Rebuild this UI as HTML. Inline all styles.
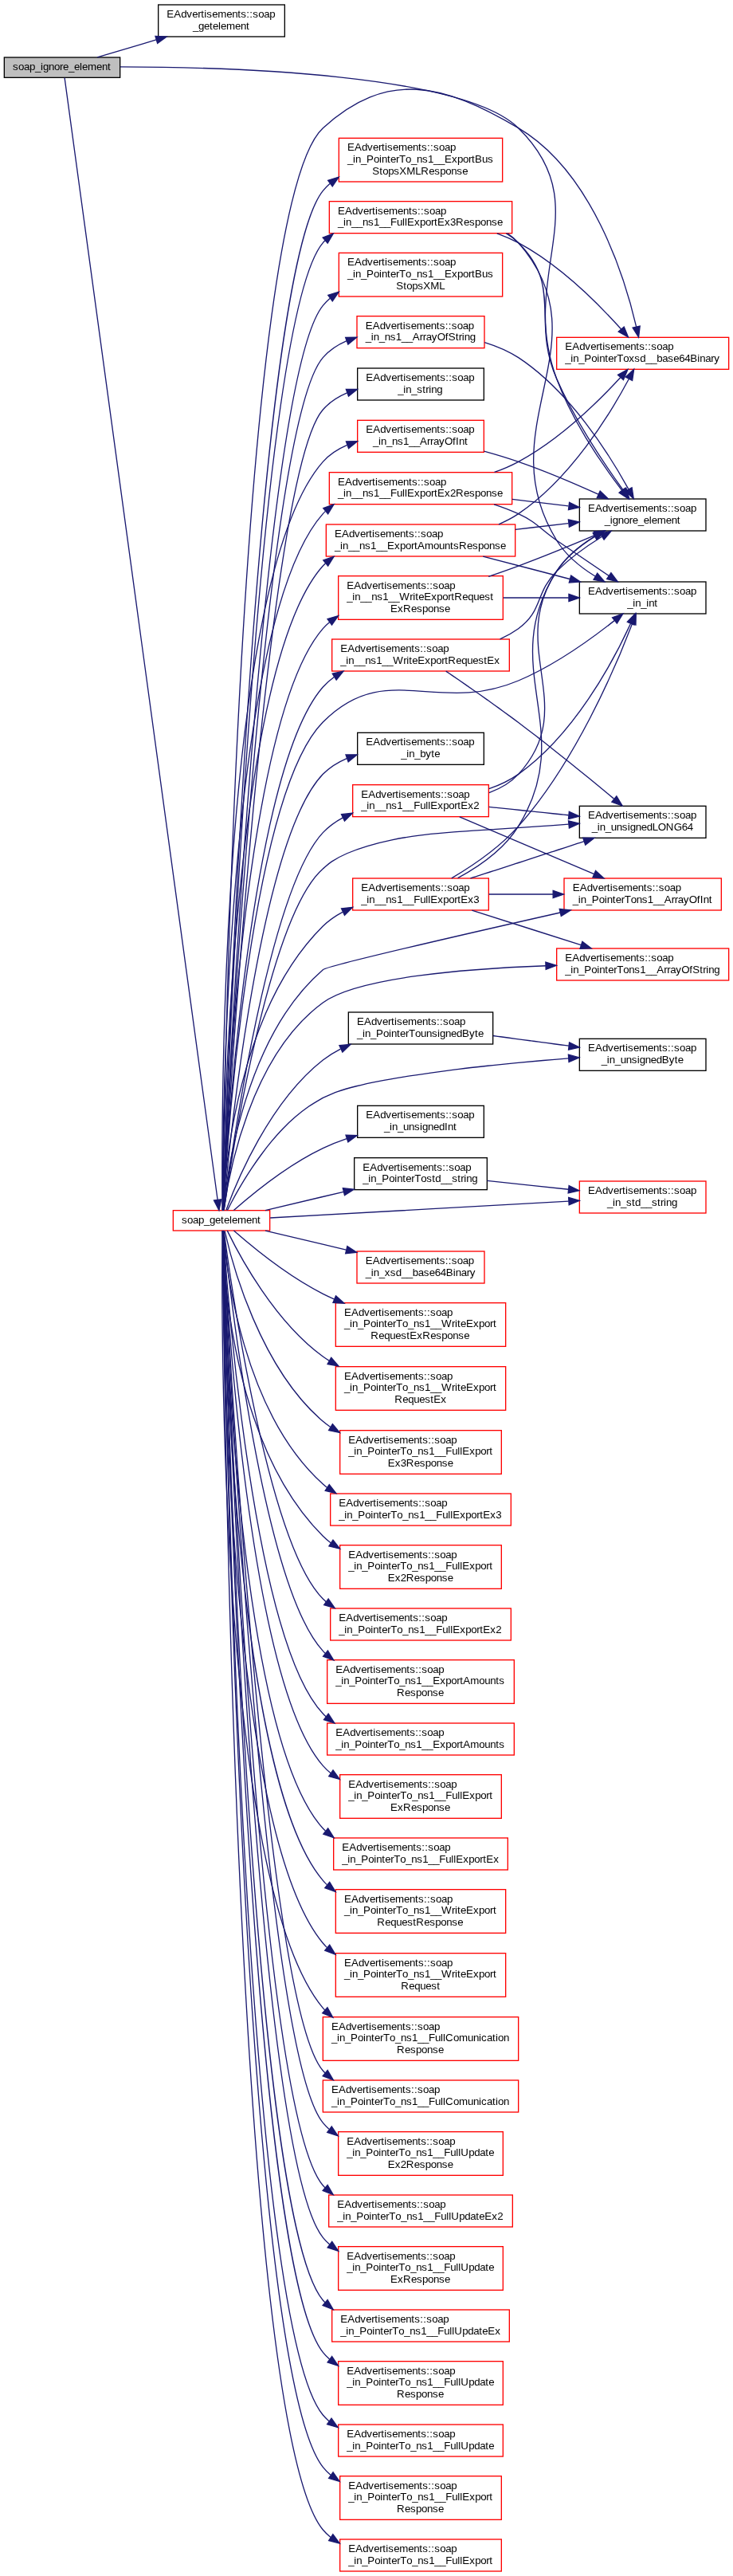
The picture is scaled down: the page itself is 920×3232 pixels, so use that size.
<!DOCTYPE html>
<html lang="en">
<head>
<meta charset="utf-8">
<title>soap_ignore_element</title>
<style>
html,body{margin:0;padding:0;background:#fff}
svg{display:block;will-change:transform}
text{font-family:"Liberation Sans",sans-serif;font-size:10px;fill:#000}
.e path{fill:none;stroke:#191970;stroke-width:1}
.e polygon{fill:#191970;stroke:#191970;stroke-width:1}
.n rect{stroke-width:1}
</style>
</head>
<body>
<svg width="920" height="3232" viewBox="0 0 690 2424">
<rect x="0" y="0" width="690" height="2424" fill="#fff"/>
<g transform="translate(4 2420)">
<g class="n">
<rect x="0" y="-2366" width="109" height="19" fill="#bfbfbf" stroke="#000"/>
<text transform="translate(0 -2354) scale(1 1.02)" x="8 13.25 18.5 23.75 29 34.25 36.5 41.75 47 52.25 55.25 60.5 65.75 71 73.25 78.5 86.75 92 97.25">soap_ignore_element</text>
<rect x="145" y="-2415.5" width="119" height="30" fill="#fff" stroke="#000"/>
<text transform="translate(0 -2403.5) scale(1 1.02)" x="153 159.75 166.5 171.75 177 182.25 185.25 188.25 190.5 195.75 201 209.25 214.5 219.75 222.75 228 231 234 239.25 244.5 249.75">EAdvertisements::soap</text>
<text transform="translate(0 -2392.5) scale(1 1.02)" x="177.5 182.75 188 193.25 196.25 201.5 203.75 209 217.25 222.5 227.75">_getelement</text>
<rect x="541.5" y="-1950.5" width="119" height="30" fill="#fff" stroke="#000"/>
<text transform="translate(0 -1938.5) scale(1 1.02)" x="549.5 556.25 563 568.25 573.5 578.75 581.75 584.75 587 592.25 597.5 605.75 611 616.25 619.25 624.5 627.5 630.5 635.75 641 646.25">EAdvertisements::soap</text>
<text transform="translate(0 -1927.5) scale(1 1.02)" x="565 570.25 572.5 577.75 583 588.25 591.25 596.5 601.75 607 609.25 614.5 622.75 628 633.25">_ignore_element</text>
<rect x="159" y="-1281" width="91" height="19" fill="#fff" stroke="#f00"/>
<text transform="translate(0 -1269) scale(1 1.02)" x="167 172.25 177.5 182.75 188 193.25 198.5 203.75 206.75 212 214.25 219.5 227.75 233 238.25">soap_getelement</text>
<rect x="332.5" y="-1730.5" width="119" height="30" fill="#fff" stroke="#000"/>
<text transform="translate(0 -1718.5) scale(1 1.02)" x="340.5 347.25 354 359.25 364.5 369.75 372.75 375.75 378 383.25 388.5 396.75 402 407.25 410.25 415.5 418.5 421.5 426.75 432 437.25">EAdvertisements::soap</text>
<text transform="translate(0 -1707.5) scale(1 1.02)" x="373.5 378.75 381 386.25 391.5 396.75 402 405">_in_byte</text>
<rect x="541.5" y="-1872.5" width="119" height="30" fill="#fff" stroke="#000"/>
<text transform="translate(0 -1860.5) scale(1 1.02)" x="549.5 556.25 563 568.25 573.5 578.75 581.75 584.75 587 592.25 597.5 605.75 611 616.25 619.25 624.5 627.5 630.5 635.75 641 646.25">EAdvertisements::soap</text>
<text transform="translate(0 -1849.5) scale(1 1.02)" x="586.5 591.75 594 599.25 604.5 606.75 612">_in_int</text>
<rect x="541.5" y="-1442.5" width="119" height="30" fill="#fff" stroke="#000"/>
<text transform="translate(0 -1430.5) scale(1 1.02)" x="549.5 556.25 563 568.25 573.5 578.75 581.75 584.75 587 592.25 597.5 605.75 611 616.25 619.25 624.5 627.5 630.5 635.75 641 646.25">EAdvertisements::soap</text>
<text transform="translate(0 -1419.5) scale(1 1.02)" x="562 567.25 569.5 574.75 580 585.25 590.5 595.75 598 603.25 608.5 613.75 619 625.75 631 634">_in_unsignedByte</text>
<rect x="332.5" y="-1379.5" width="119" height="30" fill="#fff" stroke="#000"/>
<text transform="translate(0 -1367.5) scale(1 1.02)" x="340.5 347.25 354 359.25 364.5 369.75 372.75 375.75 378 383.25 388.5 396.75 402 407.25 410.25 415.5 418.5 421.5 426.75 432 437.25">EAdvertisements::soap</text>
<text transform="translate(0 -1356.5) scale(1 1.02)" x="357.5 362.75 365 370.25 375.5 380.75 386 391.25 393.5 398.75 404 409.25 414.5 417.5 422.75">_in_unsignedInt</text>
<rect x="541.5" y="-1661.5" width="119" height="30" fill="#fff" stroke="#000"/>
<text transform="translate(0 -1649.5) scale(1 1.02)" x="549.5 556.25 563 568.25 573.5 578.75 581.75 584.75 587 592.25 597.5 605.75 611 616.25 619.25 624.5 627.5 630.5 635.75 641 646.25">EAdvertisements::soap</text>
<text transform="translate(0 -1638.5) scale(1 1.02)" x="553 558.25 560.5 565.75 571 576.25 581.5 586.75 589 594.25 599.5 604.75 610 615.25 622.75 630.25 637.75 643">_in_unsignedLONG64</text>
<rect x="541.5" y="-1308.5" width="119" height="30" fill="#fff" stroke="#f00"/>
<text transform="translate(0 -1296.5) scale(1 1.02)" x="549.5 556.25 563 568.25 573.5 578.75 581.75 584.75 587 592.25 597.5 605.75 611 616.25 619.25 624.5 627.5 630.5 635.75 641 646.25">EAdvertisements::soap</text>
<text transform="translate(0 -1285.5) scale(1 1.02)" x="567.5 572.75 575 580.25 585.5 590.75 593.75 599 604.25 609.5 614.75 617.75 620.75 623 628.25">_in_std__string</text>
<rect x="332" y="-1242.5" width="120" height="30" fill="#fff" stroke="#f00"/>
<text transform="translate(0 -1230.5) scale(1 1.02)" x="340 346.75 353.5 358.75 364 369.25 372.25 375.25 377.5 382.75 388 396.25 401.5 406.75 409.75 415 418 421 426.25 431.5 436.75">EAdvertisements::soap</text>
<text transform="translate(0 -1219.5) scale(1 1.02)" x="340 345.25 347.5 352.75 358 363.25 368.5 373.75 379 384.25 389.5 394.75 400 405.25 410.5 415.75 422.5 424.75 430 435.25 438.25">_in_xsd__base64Binary</text>
<rect x="332" y="-2122.5" width="120" height="30" fill="#fff" stroke="#f00"/>
<text transform="translate(0 -2110.5) scale(1 1.02)" x="340 346.75 353.5 358.75 364 369.25 372.25 375.25 377.5 382.75 388 396.25 401.5 406.75 409.75 415 418 421 426.25 431.5 436.75">EAdvertisements::soap</text>
<text transform="translate(0 -2099.5) scale(1 1.02)" x="340 345.25 347.5 352.75 358 363.25 368.5 373.75 379 384.25 391 394 397 402.25 407.5 415 418 424.75 427.75 430.75 433 438.25">_in_ns1__ArrayOfString</text>
<rect x="332.5" y="-2024.5" width="119" height="30" fill="#fff" stroke="#f00"/>
<text transform="translate(0 -2012.5) scale(1 1.02)" x="340.5 347.25 354 359.25 364.5 369.75 372.75 375.75 378 383.25 388.5 396.75 402 407.25 410.25 415.5 418.5 421.5 426.75 432 437.25">EAdvertisements::soap</text>
<text transform="translate(0 -2001.5) scale(1 1.02)" x="347 352.25 354.5 359.75 365 370.25 375.5 380.75 386 391.25 398 401 404 409.25 414.5 422 425 428 433.25">_in_ns1__ArrayOfInt</text>
<rect x="314.5" y="-1878" width="155" height="41" fill="#fff" stroke="#f00"/>
<text transform="translate(0 -1866) scale(1 1.02)" x="322.5 329.25 336 341.25 346.5 351.75 354.75 357.75 360 365.25 370.5 378.75 384 389.25 392.25 397.5 400.5 403.5 408.75 414 419.25">EAdvertisements::soap</text>
<text transform="translate(0 -1855) scale(1 1.02)" x="322.5 327.75 330 335.25 340.5 345.75 351 356.25 361.5 366.75 372 381.75 384.75 387 390 395.25 402 407.25 412.5 417.75 420.75 423.75 431.25 436.5 441.75 447 452.25 457.5">_in__ns1__WriteExportRequest</text>
<text transform="translate(0 -1844) scale(1 1.02)" x="363.5 370.25 375.5 383 388.25 393.5 398.75 404 409.25 414.5">ExResponse</text>
<rect x="308.5" y="-1818.5" width="167" height="30" fill="#fff" stroke="#f00"/>
<text transform="translate(0 -1806.5) scale(1 1.02)" x="316.5 323.25 330 335.25 340.5 345.75 348.75 351.75 354 359.25 364.5 372.75 378 383.25 386.25 391.5 394.5 397.5 402.75 408 413.25">EAdvertisements::soap</text>
<text transform="translate(0 -1795.5) scale(1 1.02)" x="316.5 321.75 324 329.25 334.5 339.75 345 350.25 355.5 360.75 366 375.75 378.75 381 384 389.25 396 401.25 406.5 411.75 414.75 417.75 425.25 430.5 435.75 441 446.25 451.5 454.5 461.25">_in__ns1__WriteExportRequestEx</text>
<rect x="306" y="-2230.5" width="172" height="30" fill="#fff" stroke="#f00"/>
<text transform="translate(0 -2218.5) scale(1 1.02)" x="314 320.75 327.5 332.75 338 343.25 346.25 349.25 351.5 356.75 362 370.25 375.5 380.75 383.75 389 392 395 400.25 405.5 410.75">EAdvertisements::soap</text>
<text transform="translate(0 -2207.5) scale(1 1.02)" x="314 319.25 321.5 326.75 332 337.25 342.5 347.75 353 358.25 363.5 369.5 374.75 377 379.25 386 391.25 396.5 401.75 404.75 407.75 414.5 419.75 425 432.5 437.75 443 448.25 453.5 458.75 464">_in__ns1__FullExportEx3Response</text>
<rect x="520" y="-2102.5" width="162" height="30" fill="#fff" stroke="#f00"/>
<text transform="translate(0 -2090.5) scale(1 1.02)" x="528 534.75 541.5 546.75 552 557.25 560.25 563.25 565.5 570.75 576 584.25 589.5 594.75 597.75 603 606 609 614.25 619.5 624.75">EAdvertisements::soap</text>
<text transform="translate(0 -2079.5) scale(1 1.02)" x="528 533.25 535.5 540.75 546 552.75 558 560.25 565.5 568.5 573.75 576.75 582.75 588 593.25 598.5 603.75 609 614.25 619.5 624.75 630 635.25 640.5 645.75 652.5 654.75 660 665.25 668.25">_in_PointerToxsd__base64Binary</text>
<rect x="328" y="-1593.5" width="128" height="30" fill="#fff" stroke="#f00"/>
<text transform="translate(0 -1581.5) scale(1 1.02)" x="336 342.75 349.5 354.75 360 365.25 368.25 371.25 373.5 378.75 384 392.25 397.5 402.75 405.75 411 414 417 422.25 427.5 432.75">EAdvertisements::soap</text>
<text transform="translate(0 -1570.5) scale(1 1.02)" x="336 341.25 343.5 348.75 354 359.25 364.5 369.75 375 380.25 385.5 391.5 396.75 399 401.25 408 413.25 418.5 423.75 426.75 429.75 436.5 441.75">_in__ns1__FullExportEx3</text>
<rect x="527" y="-1593.5" width="148" height="30" fill="#fff" stroke="#f00"/>
<text transform="translate(0 -1581.5) scale(1 1.02)" x="535 541.75 548.5 553.75 559 564.25 567.25 570.25 572.5 577.75 583 591.25 596.5 601.75 604.75 610 613 616 621.25 626.5 631.75">EAdvertisements::soap</text>
<text transform="translate(0 -1570.5) scale(1 1.02)" x="535 540.25 542.5 547.75 553 559.75 565 567.25 572.5 575.5 580.75 583.75 589.75 595 600.25 605.5 610.75 616 621.25 628 631 634 639.25 644.5 652 655 658 663.25">_in_PointerTons1__ArrayOfInt</text>
<rect x="520" y="-1527.5" width="162" height="30" fill="#fff" stroke="#f00"/>
<text transform="translate(0 -1515.5) scale(1 1.02)" x="528 534.75 541.5 546.75 552 557.25 560.25 563.25 565.5 570.75 576 584.25 589.5 594.75 597.75 603 606 609 614.25 619.5 624.75">EAdvertisements::soap</text>
<text transform="translate(0 -1504.5) scale(1 1.02)" x="528 533.25 535.5 540.75 546 552.75 558 560.25 565.5 568.5 573.75 576.75 582.75 588 593.25 598.5 603.75 609 614.25 621 624 627 632.25 637.5 645 648 654.75 657.75 660.75 663 668.25">_in_PointerTons1__ArrayOfString</text>
<rect x="306" y="-1975.5" width="172" height="30" fill="#fff" stroke="#f00"/>
<text transform="translate(0 -1963.5) scale(1 1.02)" x="314 320.75 327.5 332.75 338 343.25 346.25 349.25 351.5 356.75 362 370.25 375.5 380.75 383.75 389 392 395 400.25 405.5 410.75">EAdvertisements::soap</text>
<text transform="translate(0 -1952.5) scale(1 1.02)" x="314 319.25 321.5 326.75 332 337.25 342.5 347.75 353 358.25 363.5 369.5 374.75 377 379.25 386 391.25 396.5 401.75 404.75 407.75 414.5 419.75 425 432.5 437.75 443 448.25 453.5 458.75 464">_in__ns1__FullExportEx2Response</text>
<rect x="328" y="-1681.5" width="128" height="30" fill="#fff" stroke="#f00"/>
<text transform="translate(0 -1669.5) scale(1 1.02)" x="336 342.75 349.5 354.75 360 365.25 368.25 371.25 373.5 378.75 384 392.25 397.5 402.75 405.75 411 414 417 422.25 427.5 432.75">EAdvertisements::soap</text>
<text transform="translate(0 -1658.5) scale(1 1.02)" x="336 341.25 343.5 348.75 354 359.25 364.5 369.75 375 380.25 385.5 391.5 396.75 399 401.25 408 413.25 418.5 423.75 426.75 429.75 436.5 441.75">_in__ns1__FullExportEx2</text>
<rect x="303" y="-1926.5" width="178" height="30" fill="#fff" stroke="#f00"/>
<text transform="translate(0 -1914.5) scale(1 1.02)" x="311 317.75 324.5 329.75 335 340.25 343.25 346.25 348.5 353.75 359 367.25 372.5 377.75 380.75 386 389 392 397.25 402.5 407.75">EAdvertisements::soap</text>
<text transform="translate(0 -1903.5) scale(1 1.02)" x="311 316.25 318.5 323.75 329 334.25 339.5 344.75 350 355.25 360.5 367.25 372.5 377.75 383 386 389 395.75 404 409.25 414.5 419.75 422.75 428 435.5 440.75 446 451.25 456.5 461.75 467">_in__ns1__ExportAmountsResponse</text>
<rect x="312" y="-1194" width="160" height="41" fill="#fff" stroke="#f00"/>
<text transform="translate(0 -1182) scale(1 1.02)" x="320 326.75 333.5 338.75 344 349.25 352.25 355.25 357.5 362.75 368 376.25 381.5 386.75 389.75 395 398 401 406.25 411.5 416.75">EAdvertisements::soap</text>
<text transform="translate(0 -1171) scale(1 1.02)" x="320 325.25 327.5 332.75 338 344.75 350 352.25 357.5 360.5 365.75 368.75 374.75 380 385.25 390.5 395.75 401 406.25 411.5 421.25 424.25 426.5 429.5 434.75 441.5 446.75 452 457.25 460.25">_in_PointerTo_ns1__WriteExport</text>
<text transform="translate(0 -1160) scale(1 1.02)" x="345 352.5 357.75 363 368.25 373.5 378.75 381.75 388.5 393.75 401.25 406.5 411.75 417 422.25 427.5 432.75">RequestExResponse</text>
<rect x="312" y="-1134" width="160" height="41" fill="#fff" stroke="#f00"/>
<text transform="translate(0 -1122) scale(1 1.02)" x="320 326.75 333.5 338.75 344 349.25 352.25 355.25 357.5 362.75 368 376.25 381.5 386.75 389.75 395 398 401 406.25 411.5 416.75">EAdvertisements::soap</text>
<text transform="translate(0 -1111) scale(1 1.02)" x="320 325.25 327.5 332.75 338 344.75 350 352.25 357.5 360.5 365.75 368.75 374.75 380 385.25 390.5 395.75 401 406.25 411.5 421.25 424.25 426.5 429.5 434.75 441.5 446.75 452 457.25 460.25">_in_PointerTo_ns1__WriteExport</text>
<text transform="translate(0 -1100) scale(1 1.02)" x="367.5 375 380.25 385.5 390.75 396 401.25 404.25 411">RequestEx</text>
<rect x="316" y="-1074" width="152" height="41" fill="#fff" stroke="#f00"/>
<text transform="translate(0 -1062) scale(1 1.02)" x="324 330.75 337.5 342.75 348 353.25 356.25 359.25 361.5 366.75 372 380.25 385.5 390.75 393.75 399 402 405 410.25 415.5 420.75">EAdvertisements::soap</text>
<text transform="translate(0 -1051) scale(1 1.02)" x="324 329.25 331.5 336.75 342 348.75 354 356.25 361.5 364.5 369.75 372.75 378.75 384 389.25 394.5 399.75 405 410.25 415.5 421.5 426.75 429 431.25 438 443.25 448.5 453.75 456.75">_in_PointerTo_ns1__FullExport</text>
<text transform="translate(0 -1040) scale(1 1.02)" x="361 367.75 373 378.25 385.75 391 396.25 401.5 406.75 412 417.25">Ex3Response</text>
<rect x="307" y="-1014.5" width="170" height="30" fill="#fff" stroke="#f00"/>
<text transform="translate(0 -1002.5) scale(1 1.02)" x="315 321.75 328.5 333.75 339 344.25 347.25 350.25 352.5 357.75 363 371.25 376.5 381.75 384.75 390 393 396 401.25 406.5 411.75">EAdvertisements::soap</text>
<text transform="translate(0 -991.5) scale(1 1.02)" x="315 320.25 322.5 327.75 333 339.75 345 347.25 352.5 355.5 360.75 363.75 369.75 375 380.25 385.5 390.75 396 401.25 406.5 412.5 417.75 420 422.25 429 434.25 439.5 444.75 447.75 450.75 457.5 462.75">_in_PointerTo_ns1__FullExportEx3</text>
<rect x="316" y="-966" width="152" height="41" fill="#fff" stroke="#f00"/>
<text transform="translate(0 -954) scale(1 1.02)" x="324 330.75 337.5 342.75 348 353.25 356.25 359.25 361.5 366.75 372 380.25 385.5 390.75 393.75 399 402 405 410.25 415.5 420.75">EAdvertisements::soap</text>
<text transform="translate(0 -943) scale(1 1.02)" x="324 329.25 331.5 336.75 342 348.75 354 356.25 361.5 364.5 369.75 372.75 378.75 384 389.25 394.5 399.75 405 410.25 415.5 421.5 426.75 429 431.25 438 443.25 448.5 453.75 456.75">_in_PointerTo_ns1__FullExport</text>
<text transform="translate(0 -932) scale(1 1.02)" x="361 367.75 373 378.25 385.75 391 396.25 401.5 406.75 412 417.25">Ex2Response</text>
<rect x="307" y="-906.5" width="170" height="30" fill="#fff" stroke="#f00"/>
<text transform="translate(0 -894.5) scale(1 1.02)" x="315 321.75 328.5 333.75 339 344.25 347.25 350.25 352.5 357.75 363 371.25 376.5 381.75 384.75 390 393 396 401.25 406.5 411.75">EAdvertisements::soap</text>
<text transform="translate(0 -883.5) scale(1 1.02)" x="315 320.25 322.5 327.75 333 339.75 345 347.25 352.5 355.5 360.75 363.75 369.75 375 380.25 385.5 390.75 396 401.25 406.5 412.5 417.75 420 422.25 429 434.25 439.5 444.75 447.75 450.75 457.5 462.75">_in_PointerTo_ns1__FullExportEx2</text>
<rect x="304" y="-858" width="176" height="41" fill="#fff" stroke="#f00"/>
<text transform="translate(0 -846) scale(1 1.02)" x="312 318.75 325.5 330.75 336 341.25 344.25 347.25 349.5 354.75 360 368.25 373.5 378.75 381.75 387 390 393 398.25 403.5 408.75">EAdvertisements::soap</text>
<text transform="translate(0 -835) scale(1 1.02)" x="312 317.25 319.5 324.75 330 336.75 342 344.25 349.5 352.5 357.75 360.75 366.75 372 377.25 382.5 387.75 393 398.25 403.5 410.25 415.5 420.75 426 429 432 438.75 447 452.25 457.5 462.75 465.75">_in_PointerTo_ns1__ExportAmounts</text>
<text transform="translate(0 -824) scale(1 1.02)" x="369.5 377 382.25 387.5 392.75 398 403.25 408.5">Response</text>
<rect x="304" y="-798.5" width="176" height="30" fill="#fff" stroke="#f00"/>
<text transform="translate(0 -786.5) scale(1 1.02)" x="312 318.75 325.5 330.75 336 341.25 344.25 347.25 349.5 354.75 360 368.25 373.5 378.75 381.75 387 390 393 398.25 403.5 408.75">EAdvertisements::soap</text>
<text transform="translate(0 -775.5) scale(1 1.02)" x="312 317.25 319.5 324.75 330 336.75 342 344.25 349.5 352.5 357.75 360.75 366.75 372 377.25 382.5 387.75 393 398.25 403.5 410.25 415.5 420.75 426 429 432 438.75 447 452.25 457.5 462.75 465.75">_in_PointerTo_ns1__ExportAmounts</text>
<rect x="316" y="-750" width="152" height="41" fill="#fff" stroke="#f00"/>
<text transform="translate(0 -738) scale(1 1.02)" x="324 330.75 337.5 342.75 348 353.25 356.25 359.25 361.5 366.75 372 380.25 385.5 390.75 393.75 399 402 405 410.25 415.5 420.75">EAdvertisements::soap</text>
<text transform="translate(0 -727) scale(1 1.02)" x="324 329.25 331.5 336.75 342 348.75 354 356.25 361.5 364.5 369.75 372.75 378.75 384 389.25 394.5 399.75 405 410.25 415.5 421.5 426.75 429 431.25 438 443.25 448.5 453.75 456.75">_in_PointerTo_ns1__FullExport</text>
<text transform="translate(0 -716) scale(1 1.02)" x="363.5 370.25 375.5 383 388.25 393.5 398.75 404 409.25 414.5">ExResponse</text>
<rect x="310" y="-690.5" width="164" height="30" fill="#fff" stroke="#f00"/>
<text transform="translate(0 -678.5) scale(1 1.02)" x="318 324.75 331.5 336.75 342 347.25 350.25 353.25 355.5 360.75 366 374.25 379.5 384.75 387.75 393 396 399 404.25 409.5 414.75">EAdvertisements::soap</text>
<text transform="translate(0 -667.5) scale(1 1.02)" x="318 323.25 325.5 330.75 336 342.75 348 350.25 355.5 358.5 363.75 366.75 372.75 378 383.25 388.5 393.75 399 404.25 409.5 415.5 420.75 423 425.25 432 437.25 442.5 447.75 450.75 453.75 460.5">_in_PointerTo_ns1__FullExportEx</text>
<rect x="312" y="-642" width="160" height="41" fill="#fff" stroke="#f00"/>
<text transform="translate(0 -630) scale(1 1.02)" x="320 326.75 333.5 338.75 344 349.25 352.25 355.25 357.5 362.75 368 376.25 381.5 386.75 389.75 395 398 401 406.25 411.5 416.75">EAdvertisements::soap</text>
<text transform="translate(0 -619) scale(1 1.02)" x="320 325.25 327.5 332.75 338 344.75 350 352.25 357.5 360.5 365.75 368.75 374.75 380 385.25 390.5 395.75 401 406.25 411.5 421.25 424.25 426.5 429.5 434.75 441.5 446.75 452 457.25 460.25">_in_PointerTo_ns1__WriteExport</text>
<text transform="translate(0 -608) scale(1 1.02)" x="351 358.5 363.75 369 374.25 379.5 384.75 387.75 395.25 400.5 405.75 411 416.25 421.5 426.75">RequestResponse</text>
<rect x="312" y="-582" width="160" height="41" fill="#fff" stroke="#f00"/>
<text transform="translate(0 -570) scale(1 1.02)" x="320 326.75 333.5 338.75 344 349.25 352.25 355.25 357.5 362.75 368 376.25 381.5 386.75 389.75 395 398 401 406.25 411.5 416.75">EAdvertisements::soap</text>
<text transform="translate(0 -559) scale(1 1.02)" x="320 325.25 327.5 332.75 338 344.75 350 352.25 357.5 360.5 365.75 368.75 374.75 380 385.25 390.5 395.75 401 406.25 411.5 421.25 424.25 426.5 429.5 434.75 441.5 446.75 452 457.25 460.25">_in_PointerTo_ns1__WriteExport</text>
<text transform="translate(0 -548) scale(1 1.02)" x="373.5 381 386.25 391.5 396.75 402 407.25">Request</text>
<rect x="300" y="-522" width="184" height="41" fill="#fff" stroke="#f00"/>
<text transform="translate(0 -510) scale(1 1.02)" x="308 314.75 321.5 326.75 332 337.25 340.25 343.25 345.5 350.75 356 364.25 369.5 374.75 377.75 383 386 389 394.25 399.5 404.75">EAdvertisements::soap</text>
<text transform="translate(0 -499) scale(1 1.02)" x="308 313.25 315.5 320.75 326 332.75 338 340.25 345.5 348.5 353.75 356.75 362.75 368 373.25 378.5 383.75 389 394.25 399.5 405.5 410.75 413 415.25 422.75 428 436.25 441.5 446.75 449 454.25 459.5 462.5 464.75 470">_in_PointerTo_ns1__FullComunication</text>
<text transform="translate(0 -488) scale(1 1.02)" x="369.5 377 382.25 387.5 392.75 398 403.25 408.5">Response</text>
<rect x="300" y="-462.5" width="184" height="30" fill="#fff" stroke="#f00"/>
<text transform="translate(0 -450.5) scale(1 1.02)" x="308 314.75 321.5 326.75 332 337.25 340.25 343.25 345.5 350.75 356 364.25 369.5 374.75 377.75 383 386 389 394.25 399.5 404.75">EAdvertisements::soap</text>
<text transform="translate(0 -439.5) scale(1 1.02)" x="308 313.25 315.5 320.75 326 332.75 338 340.25 345.5 348.5 353.75 356.75 362.75 368 373.25 378.5 383.75 389 394.25 399.5 405.5 410.75 413 415.25 422.75 428 436.25 441.5 446.75 449 454.25 459.5 462.5 464.75 470">_in_PointerTo_ns1__FullComunication</text>
<rect x="314.5" y="-414" width="155" height="41" fill="#fff" stroke="#f00"/>
<text transform="translate(0 -402) scale(1 1.02)" x="322.5 329.25 336 341.25 346.5 351.75 354.75 357.75 360 365.25 370.5 378.75 384 389.25 392.25 397.5 400.5 403.5 408.75 414 419.25">EAdvertisements::soap</text>
<text transform="translate(0 -391) scale(1 1.02)" x="322.5 327.75 330 335.25 340.5 347.25 352.5 354.75 360 363 368.25 371.25 377.25 382.5 387.75 393 398.25 403.5 408.75 414 420 425.25 427.5 429.75 437.25 442.5 447.75 453 456">_in_PointerTo_ns1__FullUpdate</text>
<text transform="translate(0 -380) scale(1 1.02)" x="361 367.75 373 378.25 385.75 391 396.25 401.5 406.75 412 417.25">Ex2Response</text>
<rect x="305.5" y="-354.5" width="173" height="30" fill="#fff" stroke="#f00"/>
<text transform="translate(0 -342.5) scale(1 1.02)" x="313.5 320.25 327 332.25 337.5 342.75 345.75 348.75 351 356.25 361.5 369.75 375 380.25 383.25 388.5 391.5 394.5 399.75 405 410.25">EAdvertisements::soap</text>
<text transform="translate(0 -331.5) scale(1 1.02)" x="313.5 318.75 321 326.25 331.5 338.25 343.5 345.75 351 354 359.25 362.25 368.25 373.5 378.75 384 389.25 394.5 399.75 405 411 416.25 418.5 420.75 428.25 433.5 438.75 444 447 452.25 459 464.25">_in_PointerTo_ns1__FullUpdateEx2</text>
<rect x="314.5" y="-306" width="155" height="41" fill="#fff" stroke="#f00"/>
<text transform="translate(0 -294) scale(1 1.02)" x="322.5 329.25 336 341.25 346.5 351.75 354.75 357.75 360 365.25 370.5 378.75 384 389.25 392.25 397.5 400.5 403.5 408.75 414 419.25">EAdvertisements::soap</text>
<text transform="translate(0 -283) scale(1 1.02)" x="322.5 327.75 330 335.25 340.5 347.25 352.5 354.75 360 363 368.25 371.25 377.25 382.5 387.75 393 398.25 403.5 408.75 414 420 425.25 427.5 429.75 437.25 442.5 447.75 453 456">_in_PointerTo_ns1__FullUpdate</text>
<text transform="translate(0 -272) scale(1 1.02)" x="363.5 370.25 375.5 383 388.25 393.5 398.75 404 409.25 414.5">ExResponse</text>
<rect x="308.5" y="-246.5" width="167" height="30" fill="#fff" stroke="#f00"/>
<text transform="translate(0 -234.5) scale(1 1.02)" x="316.5 323.25 330 335.25 340.5 345.75 348.75 351.75 354 359.25 364.5 372.75 378 383.25 386.25 391.5 394.5 397.5 402.75 408 413.25">EAdvertisements::soap</text>
<text transform="translate(0 -223.5) scale(1 1.02)" x="316.5 321.75 324 329.25 334.5 341.25 346.5 348.75 354 357 362.25 365.25 371.25 376.5 381.75 387 392.25 397.5 402.75 408 414 419.25 421.5 423.75 431.25 436.5 441.75 447 450 455.25 462">_in_PointerTo_ns1__FullUpdateEx</text>
<rect x="314.5" y="-198" width="155" height="41" fill="#fff" stroke="#f00"/>
<text transform="translate(0 -186) scale(1 1.02)" x="322.5 329.25 336 341.25 346.5 351.75 354.75 357.75 360 365.25 370.5 378.75 384 389.25 392.25 397.5 400.5 403.5 408.75 414 419.25">EAdvertisements::soap</text>
<text transform="translate(0 -175) scale(1 1.02)" x="322.5 327.75 330 335.25 340.5 347.25 352.5 354.75 360 363 368.25 371.25 377.25 382.5 387.75 393 398.25 403.5 408.75 414 420 425.25 427.5 429.75 437.25 442.5 447.75 453 456">_in_PointerTo_ns1__FullUpdate</text>
<text transform="translate(0 -164) scale(1 1.02)" x="369.5 377 382.25 387.5 392.75 398 403.25 408.5">Response</text>
<rect x="314.5" y="-138.5" width="155" height="30" fill="#fff" stroke="#f00"/>
<text transform="translate(0 -126.5) scale(1 1.02)" x="322.5 329.25 336 341.25 346.5 351.75 354.75 357.75 360 365.25 370.5 378.75 384 389.25 392.25 397.5 400.5 403.5 408.75 414 419.25">EAdvertisements::soap</text>
<text transform="translate(0 -115.5) scale(1 1.02)" x="322.5 327.75 330 335.25 340.5 347.25 352.5 354.75 360 363 368.25 371.25 377.25 382.5 387.75 393 398.25 403.5 408.75 414 420 425.25 427.5 429.75 437.25 442.5 447.75 453 456">_in_PointerTo_ns1__FullUpdate</text>
<rect x="316" y="-90" width="152" height="41" fill="#fff" stroke="#f00"/>
<text transform="translate(0 -78) scale(1 1.02)" x="324 330.75 337.5 342.75 348 353.25 356.25 359.25 361.5 366.75 372 380.25 385.5 390.75 393.75 399 402 405 410.25 415.5 420.75">EAdvertisements::soap</text>
<text transform="translate(0 -67) scale(1 1.02)" x="324 329.25 331.5 336.75 342 348.75 354 356.25 361.5 364.5 369.75 372.75 378.75 384 389.25 394.5 399.75 405 410.25 415.5 421.5 426.75 429 431.25 438 443.25 448.5 453.75 456.75">_in_PointerTo_ns1__FullExport</text>
<text transform="translate(0 -56) scale(1 1.02)" x="369.5 377 382.25 387.5 392.75 398 403.25 408.5">Response</text>
<rect x="316" y="-30.5" width="152" height="30" fill="#fff" stroke="#f00"/>
<text transform="translate(0 -18.5) scale(1 1.02)" x="324 330.75 337.5 342.75 348 353.25 356.25 359.25 361.5 366.75 372 380.25 385.5 390.75 393.75 399 402 405 410.25 415.5 420.75">EAdvertisements::soap</text>
<text transform="translate(0 -7.5) scale(1 1.02)" x="324 329.25 331.5 336.75 342 348.75 354 356.25 361.5 364.5 369.75 372.75 378.75 384 389.25 394.5 399.75 405 410.25 415.5 421.5 426.75 429 431.25 438 443.25 448.5 453.75 456.75">_in_PointerTo_ns1__FullExport</text>
<rect x="315" y="-2290" width="154" height="41" fill="#fff" stroke="#f00"/>
<text transform="translate(0 -2278) scale(1 1.02)" x="323 329.75 336.5 341.75 347 352.25 355.25 358.25 360.5 365.75 371 379.25 384.5 389.75 392.75 398 401 404 409.25 414.5 419.75">EAdvertisements::soap</text>
<text transform="translate(0 -2267) scale(1 1.02)" x="323 328.25 330.5 335.75 341 347.75 353 355.25 360.5 363.5 368.75 371.75 377.75 383 388.25 393.5 398.75 404 409.25 414.5 421.25 426.5 431.75 437 440 443 449.75 455">_in_PointerTo_ns1__ExportBus</text>
<text transform="translate(0 -2256) scale(1 1.02)" x="346.5 353.25 356.25 361.5 366.75 372 378.75 387 392.25 399.75 405 410.25 415.5 420.75 426 431.25">StopsXMLResponse</text>
<rect x="315" y="-2182" width="154" height="41" fill="#fff" stroke="#f00"/>
<text transform="translate(0 -2170) scale(1 1.02)" x="323 329.75 336.5 341.75 347 352.25 355.25 358.25 360.5 365.75 371 379.25 384.5 389.75 392.75 398 401 404 409.25 414.5 419.75">EAdvertisements::soap</text>
<text transform="translate(0 -2159) scale(1 1.02)" x="323 328.25 330.5 335.75 341 347.75 353 355.25 360.5 363.5 368.75 371.75 377.75 383 388.25 393.5 398.75 404 409.25 414.5 421.25 426.5 431.75 437 440 443 449.75 455">_in_PointerTo_ns1__ExportBus</text>
<text transform="translate(0 -2148) scale(1 1.02)" x="369 375.75 378.75 384 389.25 394.5 401.25 409.5">StopsXML</text>
<rect x="329.5" y="-1330.5" width="125" height="30" fill="#fff" stroke="#000"/>
<text transform="translate(0 -1318.5) scale(1 1.02)" x="337.5 344.25 351 356.25 361.5 366.75 369.75 372.75 375 380.25 385.5 393.75 399 404.25 407.25 412.5 415.5 418.5 423.75 429 434.25">EAdvertisements::soap</text>
<text transform="translate(0 -1307.5) scale(1 1.02)" x="337.5 342.75 345 350.25 355.5 362.25 367.5 369.75 375 378 383.25 386.25 392.25 397.5 402.75 405.75 411 416.25 421.5 426.75 429.75 432.75 435 440.25">_in_PointerTostd__string</text>
<rect x="324" y="-1467.5" width="136" height="30" fill="#fff" stroke="#000"/>
<text transform="translate(0 -1455.5) scale(1 1.02)" x="332 338.75 345.5 350.75 356 361.25 364.25 367.25 369.5 374.75 380 388.25 393.5 398.75 401.75 407 410 413 418.25 423.5 428.75">EAdvertisements::soap</text>
<text transform="translate(0 -1444.5) scale(1 1.02)" x="332 337.25 339.5 344.75 350 356.75 362 364.25 369.5 372.5 377.75 380.75 386.75 392 397.25 402.5 407.75 410 415.25 420.5 425.75 431 437.75 443 446">_in_PointerTounsignedByte</text>
<rect x="332.5" y="-2073.5" width="119" height="30" fill="#fff" stroke="#000"/>
<text transform="translate(0 -2061.5) scale(1 1.02)" x="340.5 347.25 354 359.25 364.5 369.75 372.75 375.75 378 383.25 388.5 396.75 402 407.25 410.25 415.5 418.5 421.5 426.75 432 437.25">EAdvertisements::soap</text>
<text transform="translate(0 -2050.5) scale(1 1.02)" x="370.5 375.75 378 383.25 388.5 393.75 396.75 399.75 402 407.25">_in_string</text>
</g>
<g class="e">
<path d="M87.61,-2366.05C103.83,-2370.87 124.05,-2376.88 143.04,-2382.52"/><polygon points="142.24,-2385.94 152.83,-2385.43 144.24,-2379.23 142.24,-2385.94"/>
<path d="M109.18,-2357.06C212.19,-2356.94 431.97,-2350.55 484,-2299.5 559.74,-2225.2 483.12,-2162.99 520,-2063.5 534.75,-2023.72 562.84,-1983.05 581.5,-1958.54"/><polygon points="584.32,-1960.62 587.67,-1950.57 578.78,-1956.34 584.32,-1960.62"/>
<path d="M56.82,-2346.79C70.28,-2248.16 182.07,-1428.59 200.83,-1291.05"/><polygon points="204.31,-1291.48 202.19,-1281.1 197.37,-1290.53 204.31,-1291.48"/>
<path d="M206.35,-1281.33C211.48,-1338.65 240.21,-1629.49 300,-1691.5 306.26,-1698 314.06,-1702.8 322.43,-1706.35"/><polygon points="321.49,-1709.73 332.08,-1709.85 323.87,-1703.15 321.49,-1709.73"/>
<path d="M206.05,-1281.29C209.68,-1342.48 232.21,-1672.03 300,-1740.5 358.81,-1799.91 407.02,-1746.91 484,-1779.5 517.69,-1793.76 551.92,-1818.27 574.38,-1836.02"/><polygon points="572.4,-1838.91 582.39,-1842.45 576.78,-1833.46 572.4,-1838.91"/>
<path d="M210.04,-1281.11C210.72,-1282.43 212.54,-1286.09 214.09,-1289 215.65,-1291.92 217.41,-1295.19 219.36,-1298.61 221.31,-1302.03 223.47,-1305.73 225.8,-1309.52 228.13,-1313.3 230.66,-1317.31 233.37,-1321.33 236.07,-1325.35 238.96,-1329.52 242.01,-1333.64 245.07,-1337.76 248.31,-1341.97 251.7,-1346.04 255.1,-1350.11 258.67,-1354.22 262.39,-1358.04 266.11,-1361.87 270,-1365.53 274.03,-1368.98 278.06,-1372.44 282.25,-1375.77 286.58,-1378.77 290.91,-1381.77 297.76,-1385.63 300,-1387 302.29,-1387.97 308.5,-1391.01 313.75,-1392.83 319,-1394.66 325.03,-1396.33 331.49,-1397.95 337.95,-1399.58 345.08,-1401.11 352.51,-1402.56 359.94,-1404.02 367.92,-1405.37 376.09,-1406.69 384.26,-1408 392.85,-1409.22 401.52,-1410.44 410.18,-1411.65 419.15,-1412.88 428.07,-1413.99 436.99,-1415.1 446.1,-1416.1 455.04,-1417.08 463.98,-1418.05 472.99,-1418.97 481.71,-1419.82 490.43,-1420.66 499.09,-1421.43 507.36,-1422.13 515.62,-1422.84 527.28,-1423.72 531.27,-1424.04"/><polygon points="531.04,-1427.61 541.25,-1424.78 531.51,-1420.62 531.04,-1427.61"/>
<path d="M216.03,-1281.04C232.68,-1295.65 266.63,-1323.55 300,-1339.5 307.07,-1342.88 314.67,-1345.87 322.36,-1348.49"/><polygon points="321.52,-1351.9 332.11,-1351.63 323.66,-1345.24 321.52,-1351.9"/>
<path d="M206.85,-1281.23C214,-1331.11 248.93,-1557.64 300,-1602.5 301.4,-1603.64 304.62,-1606.95 308.39,-1609.36 312.17,-1611.77 317.08,-1614.54 322.65,-1616.94 328.21,-1619.35 334.76,-1621.7 341.8,-1623.81 348.83,-1625.93 356.68,-1627.95 364.87,-1629.63 373.05,-1631.32 381.88,-1632.75 390.89,-1633.93 399.89,-1635.11 409.39,-1635.88 418.89,-1636.69 428.39,-1637.5 438.23,-1638.11 447.9,-1638.77 457.58,-1639.42 467.43,-1639.99 476.95,-1640.61 486.48,-1641.22 496.02,-1641.83 505.07,-1642.47 514.13,-1643.1 526.92,-1644.1 531.29,-1644.43"/><polygon points="531.13,-1647.62 541.43,-1645.13 531.82,-1640.66 531.13,-1647.62"/>
<path d="M250.37,-1274C319.02,-1277.83 450.65,-1285.17 531.36,-1289.67"/><polygon points="531.24,-1293.17 541.42,-1290.23 531.63,-1286.18 531.24,-1293.17"/>
<path d="M245.75,-1261.95C267.95,-1256.69 296.14,-1250 321.76,-1243.92"/><polygon points="322.88,-1247.25 331.8,-1241.54 321.27,-1240.44 322.88,-1247.25"/>
<path d="M205.97,-1281.19C210.33,-1368.62 244.5,-2019.5 300,-2083.5 306.05,-2090.48 313.87,-2095.55 322.38,-2099.21"/><polygon points="321.24,-2102.52 331.84,-2102.65 323.64,-2095.94 321.24,-2102.52"/>
<path d="M205.36,-1281.37C204.46,-1359.23 202.25,-1874.56 300,-1985.5 306.19,-1992.52 314.16,-1997.6 322.81,-2001.26"/><polygon points="321.82,-2004.62 332.42,-2004.7 324.18,-1998.03 321.82,-2004.62"/>
<path d="M205.81,-1281.21C208.11,-1348.23 224.75,-1741.86 300,-1828.5 301.94,-1830.73 304.04,-1832.79 306.29,-1834.69"/><polygon points="304.26,-1837.54 314.41,-1840.58 308.37,-1831.87 304.26,-1837.54"/>
<path d="M206,-1281.05C209.49,-1343.68 231.94,-1695.77 300,-1773.5 303.1,-1777.05 306.64,-1780.17 310.46,-1782.93"/><polygon points="308.92,-1786.09 319.26,-1788.4 312.62,-1780.15 308.92,-1786.09"/>
<path d="M205.84,-1281.27C209.17,-1375.31 237.44,-2118.37 300,-2191.5 300.63,-2192.23 301.27,-2192.95 301.94,-2193.64"/><polygon points="299.84,-2196.44 309.71,-2200.29 304.39,-2191.13 299.84,-2196.44"/>
<path d="M205.62,-1281.24C206.93,-1381.67 220.31,-2226.8 300,-2299.5 360.41,-2354.62 413.65,-2341.2 484,-2299.5 553.48,-2258.32 584.06,-2159.19 594.95,-2112.56"/><polygon points="598.4,-2113.19 597.15,-2102.66 591.57,-2111.67 598.4,-2113.19"/>
<path d="M205.84,-1281.19C207.75,-1320.46 220.19,-1469.51 300,-1548.5 305.36,-1553.81 311.69,-1558.18 318.46,-1561.78"/><polygon points="317.38,-1565.14 327.92,-1566.22 320.36,-1558.8 317.38,-1565.14"/>
<path d="M206.31,-1281.4C209.83,-1317.72 227.11,-1444.7 300,-1507.5 304.32,-1511.22 435.85,-1541.46 523.3,-1561.25"/><polygon points="522.68,-1564.7 533.21,-1563.49 524.23,-1557.87 522.68,-1564.7"/>
<path d="M206.69,-1281.3C211.34,-1314.99 231.56,-1426.69 300,-1476.5 332.52,-1500.17 433.75,-1508.4 509.69,-1511.19"/><polygon points="509.64,-1514.69 519.75,-1511.54 509.88,-1507.7 509.64,-1514.69"/>
<path d="M205.47,-1281.16C205.4,-1355.28 208.54,-1833.69 300,-1936.5 300.76,-1937.35 301.55,-1938.18 302.36,-1938.98"/><polygon points="300.3,-1941.82 310.26,-1945.43 304.73,-1936.4 300.3,-1941.82"/>
<path d="M206.77,-1281.34C213.73,-1333.98 248.87,-1581.93 300,-1636.5 305.36,-1642.22 311.83,-1646.85 318.81,-1650.6"/><polygon points="317.36,-1653.78 327.9,-1654.89 320.35,-1647.45 317.36,-1653.78"/>
<path d="M205.59,-1281.35C206.42,-1352.91 214.98,-1792.98 300,-1887.5 300.76,-1888.35 301.56,-1889.17 302.37,-1889.97"/><polygon points="300.33,-1892.82 310.31,-1896.39 304.74,-1887.38 300.33,-1892.82"/>
<path d="M216.08,-1261.97C232.8,-1247.35 266.85,-1219.32 300,-1202.5 303.48,-1200.74 307.08,-1199.05 310.77,-1197.45"/><polygon points="312.13,-1200.67 320.04,-1193.62 309.47,-1194.2 312.13,-1200.67"/>
<path d="M209.96,-1261.89C221.45,-1238.21 254.36,-1176.55 300,-1143.5 301.86,-1142.15 303.79,-1140.86 305.76,-1139.63"/><polygon points="307.74,-1142.53 314.72,-1134.57 304.3,-1136.44 307.74,-1142.53"/>
<path d="M207.58,-1261.59C214.64,-1230.41 240.63,-1133.31 300,-1082.5 302.24,-1080.58 304.62,-1078.79 307.09,-1077.11"/><polygon points="309.06,-1080.01 315.83,-1071.86 305.46,-1074.01 309.06,-1080.01"/>
<path d="M206.13,-1261.94C209.08,-1225.1 224.79,-1091.12 300,-1023.5 301.29,-1022.34 302.64,-1021.23 304.03,-1020.17"/><polygon points="305.96,-1023.09 312.41,-1014.68 302.13,-1017.23 305.96,-1023.09"/>
<path d="M205.56,-1261.95C206.34,-1221.14 214.89,-1059.65 300,-974.5 302.34,-972.15 304.88,-970 307.56,-968.02"/><polygon points="309.48,-970.94 315.99,-962.58 305.68,-965.06 309.48,-970.94"/>
<path d="M206.75,-1261.85C213.6,-1210.21 248.3,-967.12 300,-915.5 300.94,-914.56 301.92,-913.65 302.92,-912.78"/><polygon points="305.15,-915.49 311.15,-906.75 301.01,-909.84 305.15,-915.49"/>
<path d="M206.48,-1261.7C212.28,-1205.8 243.66,-927.49 300,-866.5 300.76,-865.68 301.54,-864.88 302.35,-864.1"/><polygon points="304.62,-866.76 310.12,-857.71 300.17,-861.36 304.62,-866.76"/>
<path d="M206.11,-1261.86C210.11,-1201.58 234.52,-876.82 300,-807.5 300.92,-806.53 301.86,-805.6 302.84,-804.7"/><polygon points="305.11,-807.38 310.91,-798.52 300.85,-801.83 305.11,-807.38"/>
<path d="M205.96,-1261.74C209.19,-1197.69 230.26,-837.66 300,-758.5 302.25,-755.95 304.72,-753.62 307.36,-751.5"/><polygon points="309.51,-754.27 315.76,-745.71 305.54,-748.5 309.51,-754.27"/>
<path d="M205.71,-1261.92C207.36,-1194.12 220.57,-786.78 300,-699.5 300.77,-698.65 301.57,-697.84 302.39,-697.05"/><polygon points="304.75,-699.64 310.35,-690.65 300.37,-694.18 304.75,-699.64"/>
<path d="M205.62,-1261.62C206.72,-1189.78 216.8,-747.95 300,-650.5 301.18,-649.11 302.43,-647.79 303.74,-646.53"/><polygon points="306.26,-649 311.82,-639.98 301.85,-643.56 306.26,-649"/>
<path d="M205.49,-1261.67C205.61,-1186.28 209.91,-699.5 300,-591.5 301.17,-590.09 302.41,-588.76 303.71,-587.48"/><polygon points="306.28,-589.9 311.74,-580.82 301.81,-584.51 306.28,-589.9"/>
<path d="M205.36,-1261.81C204.41,-1183.12 201.64,-648.58 300,-530.5 300.6,-529.78 301.23,-529.07 301.86,-528.38"/><polygon points="304.24,-530.95 309.31,-521.64 299.54,-525.76 304.24,-530.95"/>
<path d="M205.98,-1261.95C210.43,-1175.81 245.26,-534.52 300,-471.5 300.63,-470.77 301.28,-470.06 301.96,-469.38"/><polygon points="304.4,-471.89 309.77,-462.76 299.87,-466.55 304.4,-471.89"/>
<path d="M205.94,-1261.95C210.1,-1173.01 243.77,-491.11 300,-422.5 301.75,-420.37 303.65,-418.39 305.68,-416.56"/><polygon points="308.25,-419 314.11,-410.17 304.03,-413.42 308.25,-419"/>
<path d="M205.85,-1261.86C209.27,-1169.04 238.2,-435.64 300,-363.5 300.63,-362.77 301.28,-362.06 301.94,-361.36"/><polygon points="304.39,-363.87 309.71,-354.71 299.84,-358.56 304.39,-363.87"/>
<path d="M205.81,-1261.96C209.01,-1166.96 236.92,-392.45 300,-314.5 301.91,-312.14 304.01,-309.98 306.26,-307.98"/><polygon points="308.55,-310.64 314.46,-301.85 304.36,-305.03 308.55,-310.64"/>
<path d="M205.73,-1261.98C208.21,-1163.75 231.08,-336.85 300,-255.5 300.62,-254.76 301.27,-254.05 301.93,-253.35"/><polygon points="304.38,-255.86 309.67,-246.68 299.81,-250.56 304.38,-255.86"/>
<path d="M205.72,-1261.86C208.06,-1160.58 230.08,-293.78 300,-206.5 301.9,-204.13 303.98,-201.96 306.23,-199.96"/><polygon points="308.52,-202.61 314.41,-193.81 304.31,-197.02 308.52,-202.61"/>
<path d="M205.64,-1261.96C207.29,-1158.04 223.98,-238.05 300,-147.5 301.75,-145.42 303.65,-143.51 305.68,-141.75"/><polygon points="308.01,-144.39 314.1,-135.73 303.94,-138.7 308.01,-144.39"/>
<path d="M205.63,-1261.9C207.18,-1155.31 223.19,-195.18 300,-98.5 302.17,-95.77 304.59,-93.3 307.21,-91.05"/><polygon points="309.56,-93.67 315.63,-84.98 305.47,-88 309.56,-93.67"/>
<path d="M205.57,-1261.74C206.47,-1151.34 216.91,-139.2 300,-39.5 302.2,-36.86 304.65,-34.5 307.29,-32.38"/><polygon points="309.38,-35.19 315.75,-26.72 305.5,-29.37 309.38,-35.19"/>
<path d="M205.8,-1281.16C208.92,-1377.35 236.18,-2161.54 300,-2240.5 301.95,-2242.92 304.11,-2245.14 306.43,-2247.17"/><polygon points="304.75,-2250.29 314.88,-2253.42 308.92,-2244.66 304.75,-2250.29"/>
<path d="M205.93,-1281.18C210.01,-1371.37 243.04,-2062.89 300,-2132.5 301.97,-2134.91 304.14,-2137.12 306.47,-2139.14"/><polygon points="304.81,-2142.27 314.94,-2145.37 308.95,-2136.63 304.81,-2142.27"/>
<path d="M245.75,-1281.05C267.29,-1286.16 294.47,-1292.6 319.47,-1298.53"/><polygon points="318.76,-1301.96 329.29,-1300.86 320.37,-1295.15 318.76,-1301.96"/>
<path d="M208.88,-1281.25C218.63,-1307.93 249.38,-1382.81 300,-1422.5 305.07,-1426.47 310.69,-1429.93 316.57,-1432.94"/><polygon points="315.45,-1436.28 325.99,-1437.31 318.39,-1429.93 315.45,-1436.28"/>
<path d="M206.05,-1281.13C210.9,-1365.34 247.69,-1974.63 300,-2034.5 306.16,-2041.55 314.12,-2046.64 322.76,-2050.31"/><polygon points="321.76,-2053.67 332.36,-2053.75 324.12,-2047.08 321.76,-2053.67"/>
<path d="M452.18,-2097.86C463.31,-2094.43 474.45,-2089.79 484,-2083.5 532.4,-2051.65 569.45,-1992.83 587.62,-1959.74"/><polygon points="590.8,-1961.21 592.44,-1950.74 584.63,-1957.9 590.8,-1961.21"/>
<path d="M451.64,-1995.41C462.49,-1992.42 473.65,-1989.07 484,-1985.5 509.46,-1976.71 537.19,-1964.85 559.16,-1954.88"/><polygon points="560.87,-1957.94 568.5,-1950.6 557.95,-1951.58 560.87,-1957.94"/>
<path d="M455.87,-1877.55C465.34,-1880.77 474.95,-1884.14 484,-1887.5 508.12,-1896.45 534.66,-1907.35 556.25,-1916.5"/><polygon points="554.92,-1919.74 565.49,-1920.44 557.67,-1913.3 554.92,-1919.74"/>
<path d="M469.78,-1857.5C489.97,-1857.5 511.61,-1857.5 531.34,-1857.5"/><polygon points="531.46,-1861 541.46,-1857.5 531.46,-1854 531.46,-1861"/>
<path d="M466.68,-1818.67C472.81,-1821.41 478.69,-1824.66 484,-1828.5 507.38,-1845.39 499.57,-1862.13 520,-1882.5 532.51,-1894.97 548.37,-1906.2 562.67,-1915.08"/><polygon points="560.95,-1918.13 571.33,-1920.29 564.57,-1912.13 560.95,-1918.13"/>
<path d="M415.75,-1788.4C416.72,-1787.75 419.56,-1785.84 421.57,-1784.47 423.57,-1783.1 425.66,-1781.67 427.8,-1780.2 429.94,-1778.73 432.15,-1777.21 434.39,-1775.67 436.63,-1774.12 438.92,-1772.52 441.24,-1770.9 443.56,-1769.29 445.93,-1767.63 448.3,-1765.96 450.67,-1764.29 453.08,-1762.59 455.48,-1760.89 457.89,-1759.18 460.31,-1757.45 462.72,-1755.72 465.13,-1753.99 467.54,-1752.24 469.93,-1750.5 472.32,-1748.76 474.71,-1747.02 477.05,-1745.28 479.4,-1743.55 482.84,-1740.97 484,-1740.1 485.59,-1738.9 490.34,-1735.31 493.55,-1732.86 496.75,-1730.41 499.99,-1727.91 503.21,-1725.41 506.44,-1722.9 509.69,-1720.36 512.91,-1717.82 516.13,-1715.29 519.36,-1712.73 522.54,-1710.2 525.73,-1707.67 528.9,-1705.13 532.02,-1702.62 535.14,-1700.12 538.23,-1697.62 541.25,-1695.17 544.27,-1692.73 547.24,-1690.3 550.14,-1687.94 553.03,-1685.58 555.86,-1683.26 558.59,-1681.01 561.32,-1678.77 563.98,-1676.57 566.52,-1674.47 569.06,-1672.37 572.61,-1669.41 573.83,-1668.4"/><polygon points="576.36,-1670.8 581.83,-1661.72 571.9,-1665.41 576.36,-1670.8"/>
<path d="M472.37,-2200.45C476.58,-2197.9 480.51,-2194.94 484,-2191.5 526.13,-2150.05 496.1,-2117.55 520,-2063.5 537.16,-2024.7 564.62,-1983.78 582.48,-1958.94"/><polygon points="585.31,-1961 588.36,-1950.85 579.65,-1956.88 585.31,-1961"/>
<path d="M473.79,-2200.48C477.54,-2197.91 480.98,-2194.94 484,-2191.5 566.77,-2097.21 454.16,-2018.3 520,-1911.5 528.66,-1897.46 542.48,-1886.23 556.23,-1877.73"/><polygon points="558.29,-1880.58 565.19,-1872.54 554.78,-1874.52 558.29,-1880.58"/>
<path d="M463.84,-2200.4C470.83,-2197.86 477.67,-2194.91 484,-2191.5 522.93,-2170.51 559.45,-2133.91 580.76,-2110.2"/><polygon points="583.39,-2112.5 587.39,-2102.69 578.15,-2107.87 583.39,-2112.5"/>
<path d="M426.94,-1593.73C446.83,-1604.47 470.6,-1620.81 484,-1642.5 540.69,-1734.26 462.04,-1791.53 520,-1882.5 528.67,-1896.1 542.22,-1906.99 555.72,-1915.28"/><polygon points="554.12,-1918.4 564.53,-1920.35 557.61,-1912.33 554.12,-1918.4"/>
<path d="M421.06,-1593.56C440.51,-1605.04 466.04,-1622.28 484,-1642.5 537.08,-1702.26 574.88,-1790.55 591.12,-1832.98"/><polygon points="587.91,-1834.37 594.7,-1842.5 594.46,-1831.91 587.91,-1834.37"/>
<path d="M438.84,-1593.56C439.57,-1593.8 441.75,-1594.5 443.22,-1594.98 444.7,-1595.45 446.18,-1595.93 447.68,-1596.41 449.18,-1596.89 450.68,-1597.37 452.2,-1597.86 453.71,-1598.34 455.23,-1598.83 456.76,-1599.32 458.28,-1599.81 459.81,-1600.31 461.34,-1600.8 462.87,-1601.29 464.4,-1601.78 465.93,-1602.28 467.45,-1602.77 468.98,-1603.26 470.5,-1603.75 472.03,-1604.24 473.55,-1604.74 475.05,-1605.22 476.56,-1605.71 478.07,-1606.2 479.56,-1606.68 481.05,-1607.16 483.26,-1607.88 484,-1608.12 485.02,-1608.45 488.06,-1609.44 490.11,-1610.1 492.16,-1610.77 494.23,-1611.44 496.31,-1612.12 498.38,-1612.79 500.47,-1613.47 502.56,-1614.16 504.66,-1614.84 506.76,-1615.52 508.86,-1616.21 510.96,-1616.89 513.06,-1617.58 515.16,-1618.26 517.25,-1618.95 519.35,-1619.63 521.43,-1620.31 523.52,-1620.99 525.6,-1621.67 527.66,-1622.35 529.73,-1623.03 531.78,-1623.7 533.82,-1624.36 535.85,-1625.03 537.87,-1625.69 539.86,-1626.35 541.86,-1627 544.79,-1627.96 545.78,-1628.29"/><polygon points="544.81,-1631.56 555.4,-1631.44 547.04,-1624.93 544.81,-1631.56"/>
<path d="M456.23,-1578.5C475.25,-1578.5 496.42,-1578.5 516.54,-1578.5"/><polygon points="516.63,-1582 526.63,-1578.5 516.63,-1575 516.63,-1582"/>
<path d="M440.23,-1563.44C470.73,-1553.72 510.58,-1541.01 542.86,-1530.72"/><polygon points="544.15,-1533.98 552.61,-1527.61 542.02,-1527.31 544.15,-1533.98"/>
<path d="M478.09,-1950.22C495.73,-1948.09 514.1,-1945.87 531.08,-1943.82"/><polygon points="531.94,-1947.25 541.44,-1942.57 531.1,-1940.3 531.94,-1947.25"/>
<path d="M461.02,-1945.38C468.91,-1942.81 476.73,-1939.86 484,-1936.5 501.69,-1928.34 503.93,-1922.5 520,-1911.5 536.18,-1900.42 554.29,-1888.19 569.18,-1878.17"/><polygon points="571.19,-1881.03 577.53,-1872.55 567.28,-1875.22 571.19,-1881.03"/>
<path d="M461.42,-1975.63C469.24,-1978.42 476.93,-1981.69 484,-1985.5 522.21,-2006.11 558.49,-2041.45 580,-2064.65"/><polygon points="577.64,-2067.26 586.96,-2072.3 582.82,-2062.55 577.64,-2067.26"/>
<path d="M456.4,-1674.06C466.78,-1677.87 476.56,-1683.43 484,-1691.5 542.53,-1755.03 472.23,-1810.53 520,-1882.5 528.99,-1896.05 542.76,-1906.97 556.35,-1915.3"/><polygon points="554.8,-1918.44 565.21,-1920.4 558.29,-1912.38 554.8,-1918.44"/>
<path d="M456.27,-1677.72C466.08,-1681.16 475.7,-1685.64 484,-1691.5 536.25,-1728.37 572.82,-1796.65 589.6,-1833.09"/><polygon points="586.52,-1834.78 593.81,-1842.48 592.91,-1831.92 586.52,-1834.78"/>
<path d="M456.23,-1660.7C457.43,-1660.57 461.01,-1660.2 463.44,-1659.95 465.87,-1659.7 468.33,-1659.44 470.81,-1659.19 473.29,-1658.93 475.8,-1658.67 478.31,-1658.41 480.83,-1658.15 483.36,-1657.88 485.9,-1657.62 488.44,-1657.36 490.99,-1657.09 493.54,-1656.83 496.09,-1656.56 498.65,-1656.3 501.19,-1656.03 503.74,-1655.77 506.29,-1655.51 508.83,-1655.24 511.36,-1654.98 513.89,-1654.72 516.4,-1654.46 518.9,-1654.2 521.4,-1653.94 523.87,-1653.69 526.34,-1653.43 529.99,-1653.05 531.21,-1652.93"/><polygon points="531.75,-1656.28 541.39,-1651.88 531.11,-1649.31 531.75,-1656.28"/>
<path d="M428.58,-1651.37C463.64,-1636.47 517.32,-1613.65 555.25,-1597.52"/><polygon points="556.7,-1600.71 564.53,-1593.58 553.96,-1594.27 556.7,-1600.71"/>
<path d="M481.09,-1921.71C497.79,-1923.65 515.03,-1925.65 531.04,-1927.5"/><polygon points="531.02,-1931.03 541.35,-1928.7 531.82,-1924.07 531.02,-1931.03"/>
<path d="M450.66,-1896.46C476.01,-1889.84 505.96,-1882.03 532.36,-1875.14"/><polygon points="533.5,-1878.47 542.29,-1872.55 531.73,-1871.69 533.5,-1878.47"/>
<path d="M465.48,-1926.65C472,-1929.41 478.29,-1932.66 484,-1936.5 532.94,-1969.4 570,-2029.77 587.97,-2063.35"/><polygon points="585,-2065.22 592.73,-2072.46 591.2,-2061.98 585,-2065.22"/>
<path d="M454.55,-1308.96C478.64,-1306.4 506.38,-1303.45 531.13,-1300.82"/><polygon points="531.6,-1304.29 541.18,-1299.75 530.86,-1297.33 531.6,-1304.29"/>
<path d="M460.21,-1445.35C461.36,-1445.2 464.8,-1444.74 467.13,-1444.43 469.46,-1444.12 471.82,-1443.8 474.19,-1443.49 476.56,-1443.17 478.95,-1442.85 481.34,-1442.53 483.74,-1442.21 486.15,-1441.89 488.56,-1441.57 490.97,-1441.25 493.39,-1440.92 495.81,-1440.6 498.23,-1440.28 500.65,-1439.95 503.07,-1439.63 505.48,-1439.31 507.9,-1438.99 510.3,-1438.67 512.7,-1438.35 515.09,-1438.03 517.46,-1437.71 519.84,-1437.39 522.2,-1437.08 524.54,-1436.77 526.88,-1436.45 530.33,-1435.99 531.49,-1435.84"/><polygon points="531.91,-1439.06 541.48,-1434.52 531.17,-1432.1 531.91,-1439.06"/>
</g>
</g>
</svg>
</body>
</html>
